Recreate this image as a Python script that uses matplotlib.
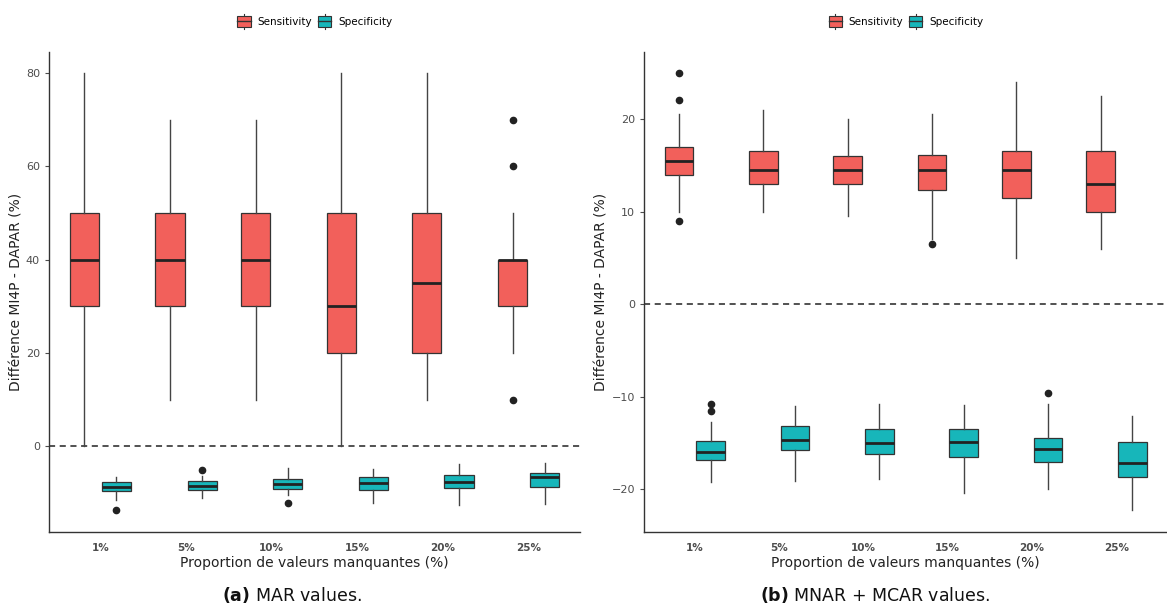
import matplotlib
matplotlib.use("Agg")
import matplotlib.pyplot as plt
from matplotlib.legend_handler import HandlerBase
from matplotlib.patches import Rectangle
from matplotlib.lines import Line2D

categories = ["1%", "5%", "10%", "15%", "20%", "25%"]
groups = ["Sensitivity", "Specificity"]
colors = {"Sensitivity": "#F2605B", "Specificity": "#17B6BA"}

# (a) MAR values: whislo, q1, med, q3, whishi, outliers
mar_sens_whislo = [0, 10, 10, 0, 10, 20]
mar_sens_q1 = [30, 30, 30, 20, 20, 30]
mar_sens_med = [40, 40, 40, 30, 35, 40]
mar_sens_q3 = [50, 50, 50, 50, 50, 40]
mar_sens_whishi = [80, 70, 70, 80, 80, 50]
mar_sens_fliers = [[], [], [], [], [], [70, 60, 10]]

mar_spec_whislo = [-11.6, -11.2, -10.5, -12.2, -12.7, -12.4]
mar_spec_q1 = [-9.6, -9.3, -9.1, -9.4, -8.9, -8.7]
mar_spec_med = [-8.7, -8.5, -8.2, -7.8, -7.6, -6.7]
mar_spec_q3 = [-7.6, -7.4, -7.1, -6.6, -6.1, -5.7]
mar_spec_whishi = [-6.6, -6.3, -4.6, -4.9, -3.9, -3.6]
mar_spec_fliers = [[-13.6], [-5.0], [-12.1], [], [], []]

# (b) MNAR + MCAR values
mnar_sens_whislo = [10.0, 10.0, 9.5, 7.0, 5.0, 6.0]
mnar_sens_q1 = [14.0, 13.0, 13.0, 12.3, 11.5, 10.0]
mnar_sens_med = [15.5, 14.5, 14.5, 14.5, 14.5, 13.0]
mnar_sens_q3 = [17.0, 16.5, 16.0, 16.1, 16.5, 16.5]
mnar_sens_whishi = [20.5, 21.0, 20.0, 20.5, 24.0, 22.5]
mnar_sens_fliers = [[25.0, 22.0, 9.0], [], [], [6.5], [], []]

mnar_spec_whislo = [-19.2, -19.1, -18.9, -20.4, -20.0, -22.2]
mnar_spec_q1 = [-16.8, -15.8, -16.2, -16.5, -17.0, -18.7]
mnar_spec_med = [-16.0, -14.7, -15.0, -14.85, -15.6, -17.1]
mnar_spec_q3 = [-14.8, -13.2, -13.5, -13.5, -14.4, -14.9]
mnar_spec_whishi = [-12.7, -11.0, -10.8, -10.9, -10.8, -12.1]
mnar_spec_fliers = [[-10.8, -11.5], [], [], [], [-9.6], []]


def make_stats(whislo, q1, med, q3, whishi, fliers):
    return [dict(whislo=a, q1=b, med=c, q3=d, whishi=e, fliers=f)
            for a, b, c, d, e, f in zip(whislo, q1, med, q3, whishi, fliers)]


class BoxKeyHandler(HandlerBase):
    def create_artists(self, legend, orig_handle, xdescent, ydescent,
                       width, height, fontsize, trans):
        cx = width / 2 - xdescent
        w = width * 0.9
        h = height * 0.75
        y0 = -ydescent + (height - h) / 2
        line = Line2D([cx, cx], [-ydescent, -ydescent + height],
                      color="#333333", lw=0.8, transform=trans)
        rect = Rectangle((cx - w / 2, y0), w, h,
                         facecolor=orig_handle.get_facecolor(), edgecolor="#333333",
                         lw=0.8, transform=trans)
        med = Line2D([cx - w / 2, cx + w / 2], [y0 + h / 2] * 2,
                     color="#333333", lw=1.0, transform=trans)
        return [line, rect, med]


def draw_panel(ax, sens_stats, spec_stats, ylim, yticks):
    pos = list(range(1, len(categories) + 1))
    for stats, off, name in [(sens_stats, -0.1875, "Sensitivity"),
                             (spec_stats, 0.1875, "Specificity")]:
        ax.bxp(stats, positions=[p + off for p in pos], widths=0.34,
               patch_artist=True, showcaps=False,
               boxprops=dict(facecolor=colors[name], edgecolor="#333333", lw=0.9),
               medianprops=dict(color="#222222", lw=2.0),
               whiskerprops=dict(color="#444444", lw=1.0),
               flierprops=dict(marker="o", markerfacecolor="#222222",
                               markeredgecolor="#222222", markersize=4.5))
    ax.axhline(0, color="#222222", lw=1.1, ls=(0, (4, 3)), zorder=0)
    ax.set_xlim(0.4, 6.6)
    ax.set_ylim(*ylim)
    ax.set_yticks(yticks)
    ax.set_xticks(pos)
    ax.set_xticklabels(categories, fontsize=7.5, fontweight="bold", color="#4D4D4D")
    ax.tick_params(axis="y", labelsize=8, colors="#4D4D4D", length=3, width=0.8)
    ax.tick_params(axis="x", length=0, pad=8)
    for s in ["top", "right"]:
        ax.spines[s].set_visible(False)
    for s in ["left", "bottom"]:
        ax.spines[s].set_color("#333333")
        ax.spines[s].set_linewidth(1.0)
    ax.set_xlabel("Proportion de valeurs manquantes (%)", fontsize=10, color="#222222", labelpad=2)
    ax.set_ylabel("Différence MI4P - DAPAR (%)", fontsize=10, color="#222222", labelpad=2)
    handles = [Rectangle((0, 0), 1, 1, facecolor=colors[g]) for g in groups]
    ax.legend(handles, groups, loc="lower center", bbox_to_anchor=(0.5, 1.03),
              ncol=2, frameon=False, fontsize=7.5, handler_map={Rectangle: BoxKeyHandler()},
              handlelength=1.4, handleheight=1.7, handletextpad=0.6, columnspacing=0.5)


fig = plt.figure(figsize=(11.67, 6.15), dpi=100)
ax1 = fig.add_axes([0.042, 0.135, 0.455, 0.780])
ax2 = fig.add_axes([0.552, 0.135, 0.448, 0.780])

draw_panel(ax1,
           make_stats(mar_sens_whislo, mar_sens_q1, mar_sens_med, mar_sens_q3, mar_sens_whishi, mar_sens_fliers),
           make_stats(mar_spec_whislo, mar_spec_q1, mar_spec_med, mar_spec_q3, mar_spec_whishi, mar_spec_fliers),
           (-18.4, 84.5), [0, 20, 40, 60, 80])
draw_panel(ax2,
           make_stats(mnar_sens_whislo, mnar_sens_q1, mnar_sens_med, mnar_sens_q3, mnar_sens_whishi, mnar_sens_fliers),
           make_stats(mnar_spec_whislo, mnar_spec_q1, mnar_spec_med, mnar_spec_q3, mnar_spec_whishi, mnar_spec_fliers),
           (-24.6, 27.2), [-20, -10, 0, 10, 20])

fig.text(0.25, 0.022, r"$\bf{(a)}$ MAR values.", ha="center", fontsize=12.5, color="#111111")
fig.text(0.75, 0.022, r"$\bf{(b)}$ MNAR + MCAR values.", ha="center", fontsize=12.5, color="#111111")

fig.savefig("out.png", dpi=100)
